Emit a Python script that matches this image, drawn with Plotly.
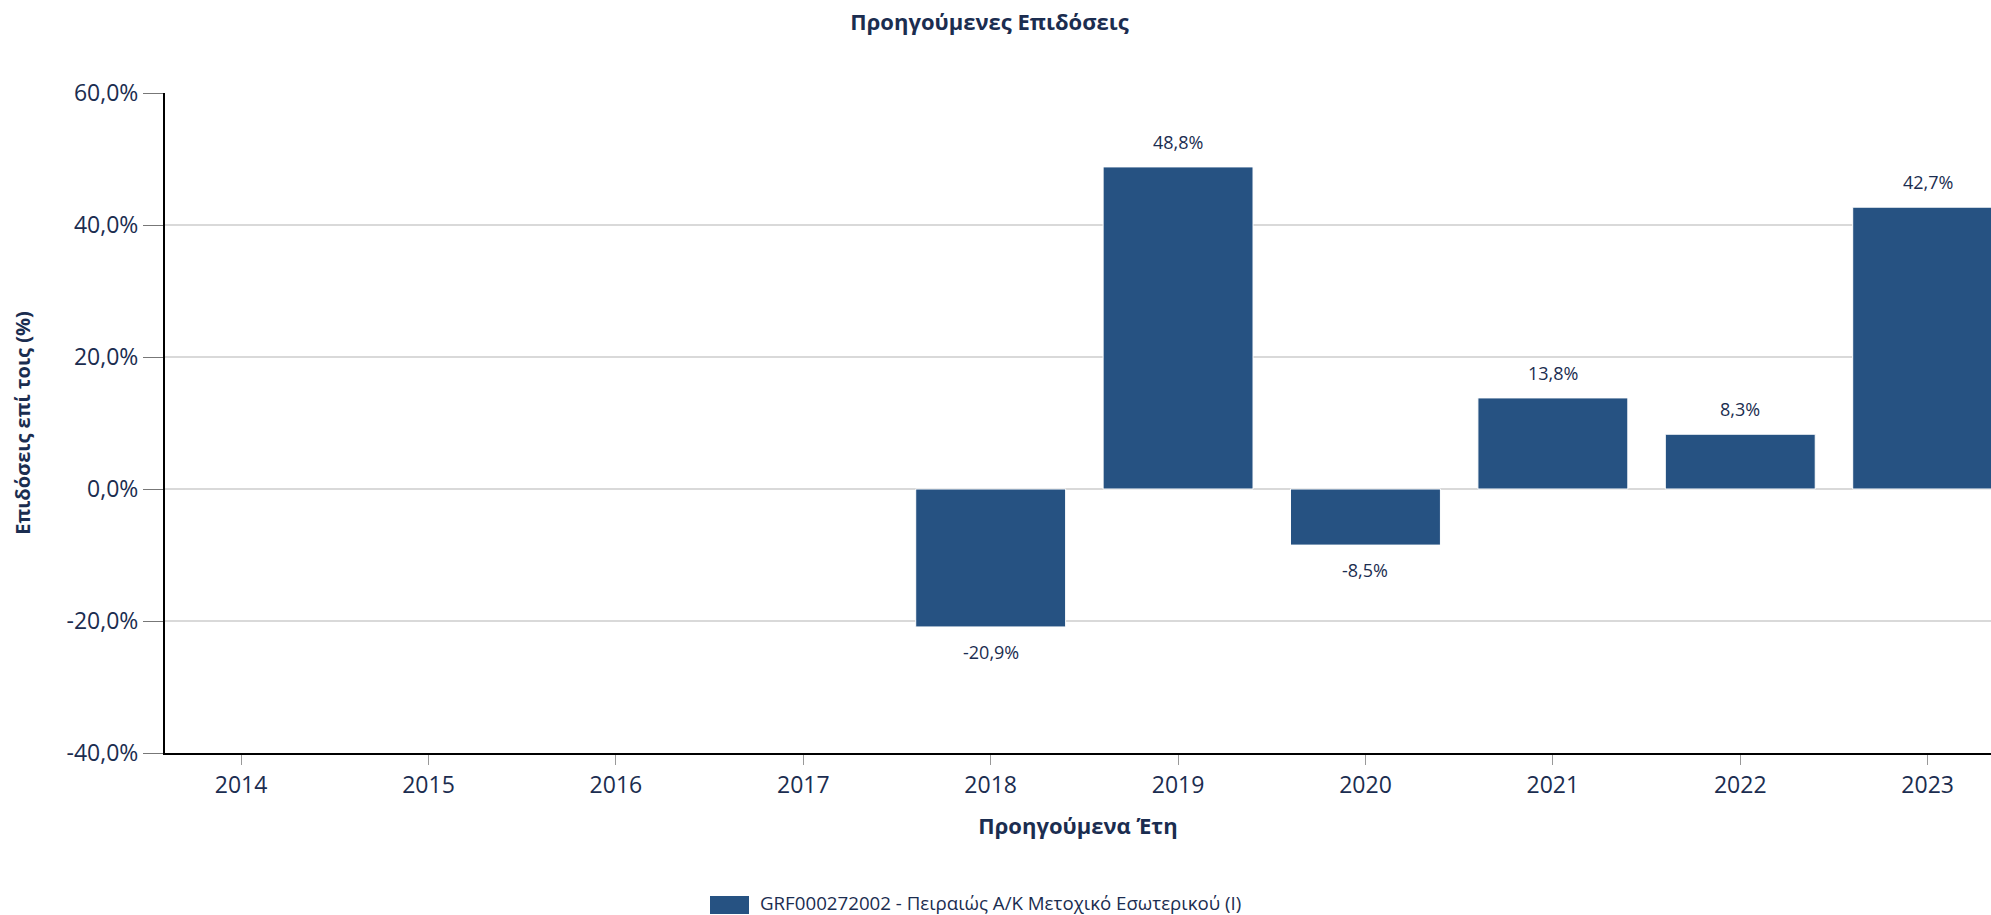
import plotly.graph_objects as go

# ---- data ----
years = ["2014", "2015", "2016", "2017", "2018", "2019", "2020", "2021", "2022", "2023"]
returns = [None, None, None, None, -20.9, 48.8, -8.5, 13.8, 8.3, 42.7]
y_ticks = [-40, -20, 0, 20, 40, 60]
series_name = "GRF000272002 - Πειραιώς Α/Κ Μετοχικό Εσωτερικού (Ι)"
title_text = "Προηγούμενες Επιδόσεις"
x_title = "Προηγούμενα Έτη"
y_title = "Επιδόσεις επί τοις (%)"

NAVY = "#1b2d50"
BAR = "#265282"
FONT = "Open Sans"

W, H = 1991, 915
ML, MR, MT, MB = 165, 0, 93, 162
PW, PH = W - ML - MR, H - MT - MB


def fmt(v):
    return f"{v:.1f}".replace(".", ",") + "%"


def px_x(px):
    return (px - ML) / PW


def px_y(py):
    return (H - MB - py) / PH


fig = go.Figure()
fig.add_trace(go.Bar(
    x=years, y=returns, name=series_name,
    marker=dict(color=BAR, line=dict(color="#ffffff", width=1)),
    hoverinfo="skip", showlegend=False,
))

# data labels
for i, v in enumerate(returns):
    if v is None:
        continue
    fig.add_annotation(
        x=i, y=v, xref="x", yref="y", text=fmt(v), showarrow=False,
        yshift=25 if v >= 0 else -25,
        font=dict(family=FONT, size=18, color=NAVY),
    )

# legend (box + label), styled like the reference
fig.add_shape(type="rect", xref="paper", yref="paper",
              x0=px_x(710), x1=px_x(749), y0=px_y(914), y1=px_y(896),
              fillcolor=BAR, line=dict(width=0), layer="above")
fig.add_annotation(text=series_name, xref="paper", yref="paper",
                   x=px_x(758), y=px_y(902), xanchor="left", yanchor="middle",
                   showarrow=False, font=dict(family=FONT, size=18.7, color=NAVY))

fig.update_layout(
    width=W, height=H,
    paper_bgcolor="white", plot_bgcolor="white",
    margin=dict(l=ML, r=MR, t=MT, b=MB, autoexpand=False),
    bargap=0.2,
    font=dict(family=FONT, color=NAVY),
    title=dict(text=f"<b>{title_text}</b>", xref="container", x=0.497,
               xanchor="center", yref="container", y=1 - 22 / H, yanchor="middle",
               font=dict(family=FONT, size=22, color=NAVY)),
    showlegend=False,
    xaxis=dict(
        type="category", categoryorder="array", categoryarray=years,
        range=[-0.406, 9.338],
        showgrid=False, zeroline=False,
        showline=True, linecolor="#000000", linewidth=2,
        ticks="outside", ticklen=10, tickcolor="#999999", tickwidth=1,
        tickfont=dict(family=FONT, size=23, color=NAVY),
        title=dict(text=f"<b>{x_title}</b>", standoff=20,
                   font=dict(family=FONT, size=22, color=NAVY)),
    ),
    yaxis=dict(
        range=[-40, 60],
        tickvals=y_ticks, ticktext=[fmt(v) for v in y_ticks],
        showgrid=True, gridcolor="#d9d9d9", gridwidth=2,
        zeroline=False,
        showline=True, linecolor="#000000", linewidth=2,
        ticks="outside", ticklen=20, tickcolor="#777777", tickwidth=1,
        tickfont=dict(family=FONT, size=23, color=NAVY),
        title=dict(text=f"<b>{y_title}</b>", standoff=31,
                   font=dict(family=FONT, size=20, color=NAVY)),
    ),
)

fig.write_html("out.html", config={"displayModeBar": False},
               post_script="document.body.style.margin='0';")
